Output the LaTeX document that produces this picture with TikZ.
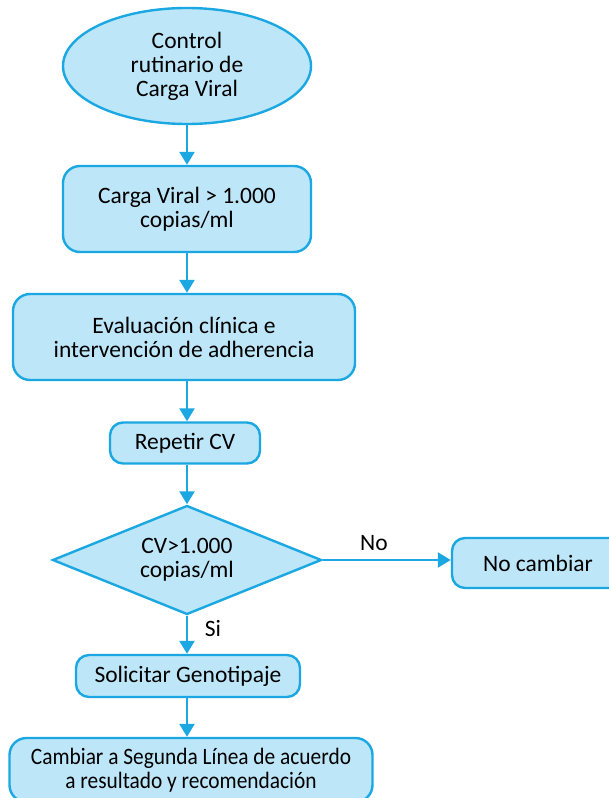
\documentclass[tikz,border=0pt]{standalone}
\usepackage{fontspec}
\setmainfont{Carlito}
\newfontfamily\narrowfont[FakeStretch=0.91]{Carlito}
\usetikzlibrary{arrows.meta,shapes.geometric}
\definecolor{flowfill}{HTML}{BDE6F8}
\definecolor{flowline}{HTML}{1BA8E2}
\begin{document}
\begin{tikzpicture}[x=1pt,y=-1pt,
  txt/.style={font=\fontsize{23.5}{24}\selectfont},
  shapebase/.style={txt, draw=flowline, fill=flowfill, line width=2.4pt,
    align=center, inner sep=0pt},
  box/.style={shapebase, rounded corners=17pt},
  smallbox/.style={shapebase, rounded corners=13pt},
  flow/.style={draw=flowline, line width=2.4pt,
    -{Triangle[width=15pt,length=13pt]}}
]
\useasboundingbox (0,0) rectangle (609,798);

% process steps
\node[shapebase, ellipse, minimum width=248pt, minimum height=116pt] (start) at (187,66)
  {Control\\rutinario de\\Carga Viral};
\node[box, minimum width=248pt, minimum height=86pt] (high) at (187,209)
  {Carga Viral > 1.000\\copias/ml};
\node[box, minimum width=342pt, minimum height=86pt] (eval) at (184,337)
  {Evaluación clínica e\\intervención de adherencia};
\node[smallbox, minimum width=150pt, minimum height=41pt] (repeat) at (185,443)
  {Repetir CV};
\node[shapebase, diamond, aspect=2.5, minimum width=269pt, minimum height=109pt] (check) at (187,560)
  {CV>1.000\\copias/ml};
\node[smallbox, minimum width=172pt, minimum height=50pt] (keep) at (538,563)
  {No cambiar};
\node[smallbox, minimum width=224pt, minimum height=42pt] (geno) at (188,676)
  {Solicitar Genotipaje};
\node[box, minimum width=363pt, minimum height=64pt,
  font=\narrowfont\fontsize{23.5}{24}\selectfont] (switch) at (191,770)
  {Cambiar a Segunda Línea de acuerdo\\a resultado y recomendación};

% connectors, all on one vertical line
\draw[flow] (start.south) -- (start.south |- high.north);
\draw[flow] (start.south |- high.south) -- (start.south |- eval.north);
\draw[flow] (start.south |- eval.south) -- (start.south |- repeat.north);
\draw[flow] (start.south |- repeat.south) -- (check.north);
\draw[flow] (check.east) -- (keep.west |- check.east);
\draw[flow] (check.south) -- (check.south |- geno.north);
\draw[flow] (check.south |- geno.south) -- (check.south |- switch.north);

% branch labels
\node[txt] (nolabel) at (374,543) {No};
\node[txt] (silabel) at (213,628) {Si};
\end{tikzpicture}
\end{document}
